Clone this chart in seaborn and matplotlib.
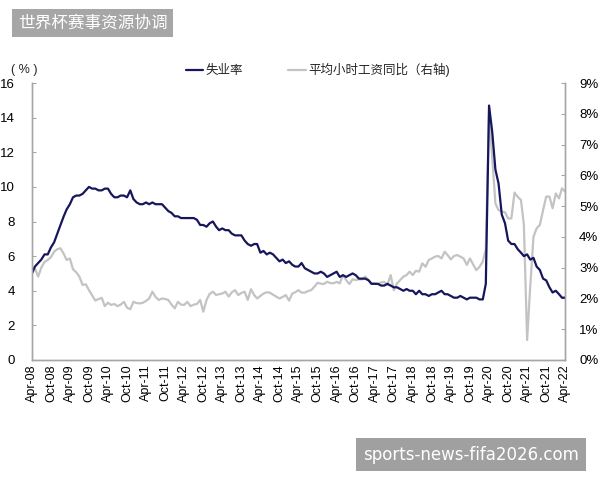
import matplotlib
matplotlib.use("Agg")
import matplotlib.pyplot as plt
import matplotlib.dates as mdates
from matplotlib.ticker import FuncFormatter
import numpy as np
import pandas as pd
import seaborn as sns

# monthly, Apr-08 .. Apr-22
months = pd.date_range("2008-04-01", "2022-04-01", freq="MS")

# 失业率 (left axis, %)
unemployment = (
    [5.0, 5.4, 5.6, 5.8, 6.1, 6.1, 6.5, 6.8, 7.3]
    + [7.8, 8.3, 8.7, 9.0, 9.4, 9.5, 9.5, 9.6, 9.8, 10.0, 9.9, 9.9]
    + [9.8, 9.8, 9.9, 9.9, 9.6, 9.4, 9.4, 9.5, 9.5, 9.4, 9.8, 9.3]
    + [9.1, 9.0, 9.0, 9.1, 9.0, 9.1, 9.0, 9.0, 9.0, 8.8, 8.6, 8.5]
    + [8.3, 8.3, 8.2, 8.2, 8.2, 8.2, 8.2, 8.1, 7.8, 7.8, 7.7, 7.9]
    + [8.0, 7.7, 7.5, 7.6, 7.5, 7.5, 7.3, 7.2, 7.2, 7.2, 6.9, 6.7]
    + [6.6, 6.7, 6.7, 6.2, 6.3, 6.1, 6.2, 6.1, 5.9, 5.7, 5.8, 5.6]
    + [5.7, 5.5, 5.4, 5.4, 5.6, 5.3, 5.2, 5.1, 5.0, 5.0, 5.1, 5.0]
    + [4.8, 4.9, 5.0, 5.1, 4.8, 4.9, 4.8, 4.9, 5.0, 4.9, 4.7, 4.7]
    + [4.7, 4.6, 4.4, 4.4, 4.4, 4.3, 4.3, 4.4, 4.3, 4.2, 4.2, 4.1]
    + [4.0, 4.1, 4.0, 4.0, 3.8, 4.0, 3.8, 3.8, 3.7, 3.8, 3.8, 3.9]
    + [4.0, 3.8, 3.8, 3.7, 3.6, 3.6, 3.7, 3.6, 3.5, 3.6, 3.6, 3.6]
    + [3.5, 3.5, 4.4, 14.7, 13.2, 11.0, 10.2, 8.4, 7.9, 6.9, 6.7, 6.7]
    + [6.4, 6.2, 6.0, 6.1, 5.8, 5.9, 5.4, 5.2, 4.7, 4.6, 4.2, 3.9]
    + [4.0, 3.8, 3.6, 3.6]
)

# 平均小时工资同比 (right axis, %)
wage_yoy = (
    [2.79, 2.98, 2.71, 3.00, 3.19, 3.25, 3.34, 3.52, 3.60]
    + [3.63, 3.45, 3.25, 3.30, 2.95, 2.85, 2.71, 2.44, 2.46, 2.27, 2.10, 1.93]
    + [1.98, 2.02, 1.75, 1.86, 1.79, 1.82, 1.75, 1.80, 1.89, 1.70, 1.65, 1.89]
    + [1.85, 1.84, 1.86, 1.92, 2.00, 2.22, 2.05, 1.95, 2.00, 1.98, 1.95, 1.80]
    + [1.68, 1.89, 1.80, 1.79, 1.89, 1.75, 1.80, 1.82, 1.95, 1.57, 1.95, 2.15]
    + [2.22, 2.11, 2.14, 2.16, 2.22, 2.06, 2.20, 2.27, 2.11, 2.18, 2.22, 1.95]
    + [2.30, 2.11, 2.00, 2.08, 2.16, 2.20, 2.19, 2.12, 2.06, 2.00, 2.05, 2.11]
    + [1.93, 2.16, 2.20, 2.27, 2.19, 2.19, 2.24, 2.27, 2.38, 2.51, 2.48, 2.47]
    + [2.54, 2.50, 2.49, 2.54, 2.49, 2.76, 2.60, 2.47, 2.62, 2.60, 2.62, 2.62]
    + [2.71, 2.60, 2.50, 2.49, 2.47, 2.52, 2.54, 2.44, 2.76, 2.27, 2.49, 2.60]
    + [2.71, 2.76, 2.87, 2.76, 2.90, 2.87, 3.14, 3.03, 3.25, 3.30, 3.36, 3.38]
    + [3.30, 3.52, 3.41, 3.27, 3.38, 3.41, 3.36, 3.30, 3.09, 3.30, 3.10, 2.92]
    + [3.03, 3.20, 3.60, 8.00, 6.60, 5.09, 4.87, 4.82, 4.80, 4.60, 4.60, 5.44]
    + [5.30, 5.20, 4.39, 0.65, 2.40, 4.00, 4.28, 4.39, 4.87, 5.31, 5.31, 4.93]
    + [5.41, 5.25, 5.58, 5.47]
)

navy = "#16165c"
light = "#c3c3c3"
spine_c = "#a6a6a6"

sns.set_style("white")
plt.rcParams["font.family"] = ["Liberation Sans", "Noto Sans CJK SC", "DejaVu Sans"]

fig = plt.figure(figsize=(6, 4.8), dpi=100)
ax = fig.add_axes([0.053, 0.25, 0.889, 0.577])
ax2 = ax.twinx()

sns.lineplot(x=months, y=unemployment, ax=ax, color=navy, linewidth=1.6, label="失业率")
sns.lineplot(x=months, y=wage_yoy, ax=ax2, color=light, linewidth=1.6, label="平均小时工资同比（右轴)")

# unemployment line drawn above the wage line
ax.set_zorder(ax2.get_zorder() + 1)
ax.patch.set_visible(False)

h1, l1 = ax.get_legend_handles_labels()
h2, l2 = ax2.get_legend_handles_labels()
ax.get_legend().remove()
ax2.get_legend().remove()
fig.legend(h1 + h2, l1 + l2, loc="center", bbox_to_anchor=(0.53, 0.854), ncol=2,
           frameon=False, fontsize=9, handlelength=1.4, handletextpad=0.2,
           columnspacing=3.6)

ax.set_xlim(months[0], months[-1])
ax.set_ylim(0, 16)
ax.set_yticks(np.arange(0, 17, 2))
ax2.set_ylim(0, 9)
ax2.set_yticks(np.arange(0, 10, 1))
ax2.yaxis.set_major_formatter(FuncFormatter(lambda v, p: f"{v:.0f}%"))

ax.xaxis.set_major_locator(mdates.MonthLocator(bymonth=[4, 10]))
ax.xaxis.set_major_formatter(mdates.DateFormatter("%b-%y"))
ax.set_xlabel("")
ax.set_ylabel("")
ax2.set_ylabel("")

for a in (ax, ax2):
    a.spines["top"].set_visible(False)
    for s in ("left", "right", "bottom"):
        a.spines[s].set_color(spine_c)
        a.spines[s].set_linewidth(1.0)
    a.tick_params(direction="in", length=3, color=spine_c, labelsize=9.5, labelcolor="black")
ax.tick_params(axis="x", rotation=90, labelsize=9, pad=3)
ax.tick_params(axis="y", pad=12)
ax2.tick_params(axis="y", pad=10)

fig.text(0.018, 0.855, "( % )", fontsize=9, va="center", ha="left")

fig.text(0.03, 0.952, "世界杯赛事资源协调", fontsize=12, color="white", va="center",
         ha="left", bbox=dict(boxstyle="square,pad=0.35", facecolor="#a6a6a6", edgecolor="none"))
fig.text(0.605, 0.053, "sports-news-fifa2026.com", fontsize=12, color="white",
         family="DejaVu Sans", va="center", ha="left",
         bbox=dict(boxstyle="square,pad=0.45", facecolor="#a0a0a0", edgecolor="none"))

fig.savefig("out.png", dpi=100)
